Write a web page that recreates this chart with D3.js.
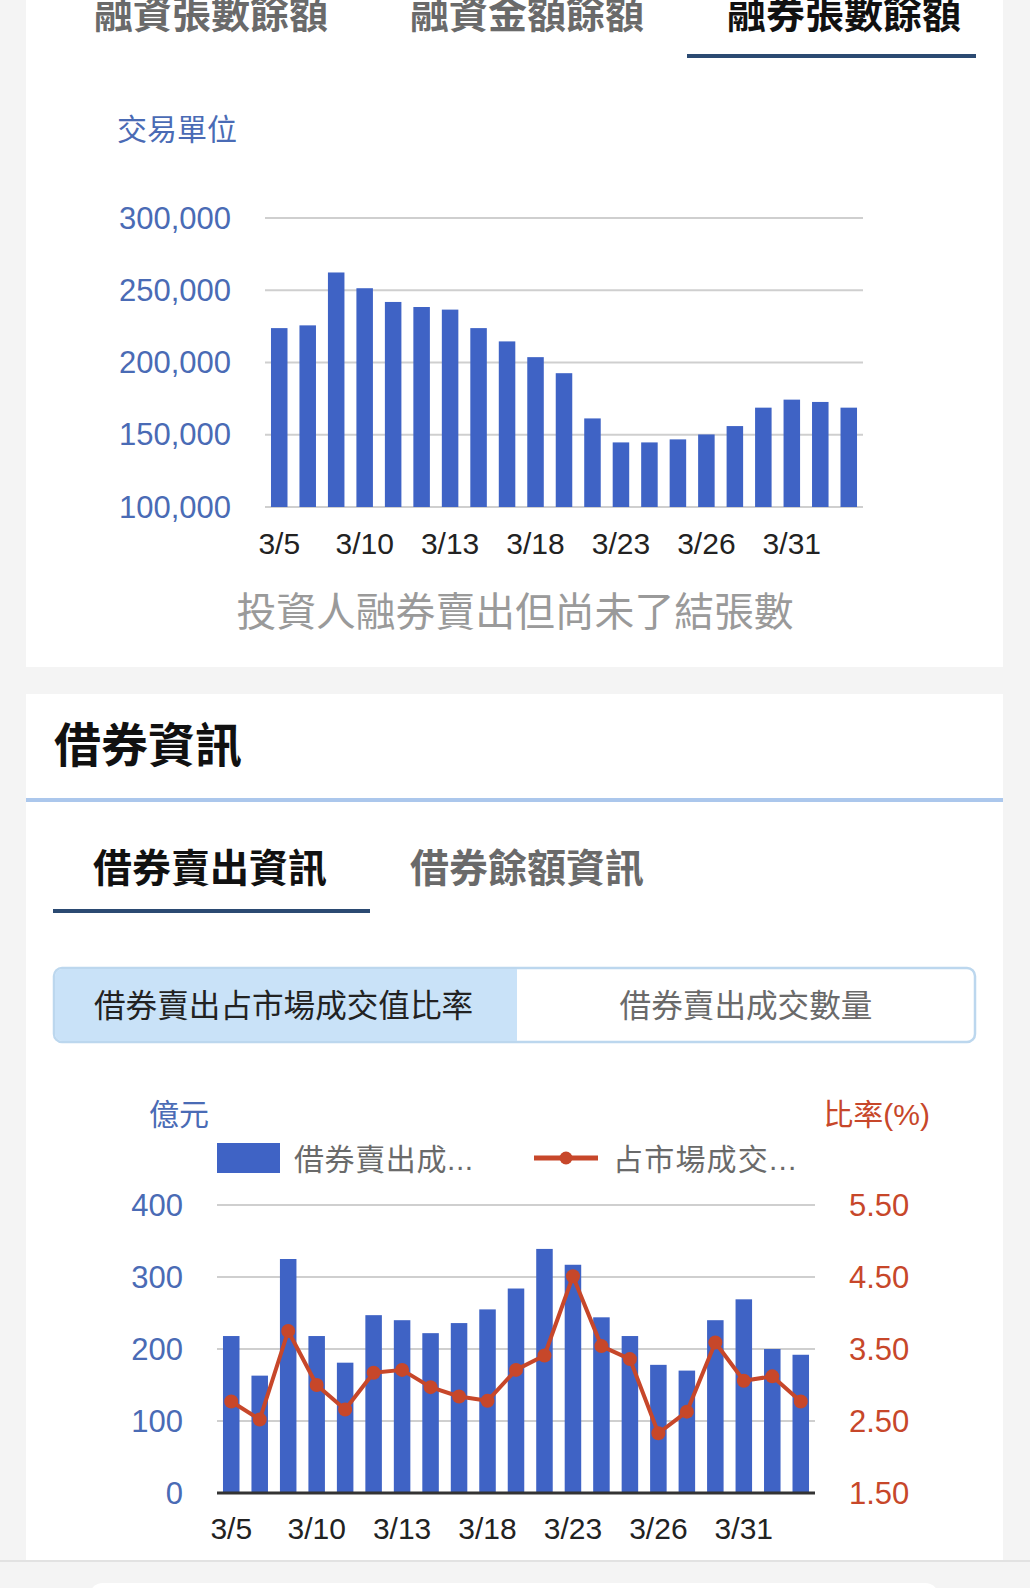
<!DOCTYPE html>
<html>
<head>
<meta charset="utf-8">
<script src="https://cdn.jsdelivr.net/npm/d3@7"></script>
<style>
  html, body { margin: 0; padding: 0; background: #f4f4f4; }
  svg { display: block; font-family: "Liberation Sans", "Noto Sans CJK TC", sans-serif; }
</style>
</head>
<body>
<svg id="page" width="1030" height="1588"></svg>
<script>
// trading days shown on both charts
const dates = ['3/5', '3/6', '3/9', '3/10', '3/11', '3/12', '3/13', '3/16', '3/17', '3/18', '3/19',
  '3/20', '3/23', '3/24', '3/25', '3/26', '3/27', '3/30', '3/31', '4/1', '4/6'];
const tickDates = ['3/5', '3/10', '3/13', '3/18', '3/23', '3/26', '3/31'];

// 融券張數餘額
const shortBalance = [223800, 225700, 262300, 251400, 241900, 238400, 236600, 223800, 214600, 203700, 192600,
  161300, 144700, 144700, 146800, 150200, 156000, 168750, 174300, 172700, 168750];
const balanceTicks = [100000, 150000, 200000, 250000, 300000];

// 借券賣出成交值 (億元) and 占市場成交值比率 (%)
const lendSellValue = [218, 163, 325, 218, 181, 247, 240, 222, 236, 255, 284,
  339, 317, 244, 218, 178, 170, 240, 269, 200, 192];
const lendSellRatio = [2.77, 2.52, 3.75, 3.00, 2.66, 3.17, 3.21, 2.97, 2.84, 2.78, 3.21,
  3.41, 4.51, 3.54, 3.36, 2.33, 2.63, 3.59, 3.06, 3.12, 2.77];
const valueTicks = [0, 100, 200, 300, 400];
const ratioTicks = [1.5, 2.5, 3.5, 4.5, 5.5];

const topTabs = ['融資張數餘額', '融資金額餘額', '融券張數餘額'];
const lendTabs = ['借券賣出資訊', '借券餘額資訊'];

const BLUE = '#3f63c5';
const AXIS_BLUE = '#4a6bb5';
const RED = '#c7472a';
const GRID = '#cfcfcf';
const NAVY = '#2b4a72';

const svg = d3.select('#page');

function text(g, x, y, str, size, opts = {}) {
  return g.append('text')
    .attr('x', x)
    .attr('y', y)
    .attr('dominant-baseline', 'central')
    .attr('text-anchor', opts.anchor || 'start')
    .attr('font-size', size)
    .attr('font-weight', opts.bold ? 'bold' : 'normal')
    .attr('fill', opts.color || '#222')
    .text(str);
}

// page background + cards
svg.append('rect').attr('width', 1030).attr('height', 1588).attr('fill', '#f4f4f4');
svg.append('rect').attr('x', 26).attr('y', 0).attr('width', 977).attr('height', 667).attr('fill', '#fff');
svg.append('rect').attr('x', 26).attr('y', 694).attr('width', 977).attr('height', 866).attr('fill', '#fff');
svg.append('rect').attr('x', 0).attr('y', 1560).attr('width', 1030).attr('height', 2).attr('fill', '#e2e2e2');
svg.append('rect').attr('x', 89).attr('y', 1583).attr('width', 850).attr('height', 30).attr('rx', 14).attr('fill', '#fff');

// top tabs (scrolled so they sit partly above the top edge)
const tabX = [94, 410, 727];
topTabs.forEach((t, i) => {
  const active = i === 2;
  text(svg, tabX[i], 14, t, 39, { bold: true, color: active ? '#111' : '#6a6a6a' });
});
svg.append('rect').attr('x', 687).attr('y', 54).attr('width', 289).attr('height', 4).attr('fill', NAVY);

text(svg, 117, 129, '交易單位', 30, { color: AXIS_BLUE });

// ---- chart 1: 融券張數餘額 ----
const x1 = d3.scaleBand().domain(dates).range([265, 863]).paddingInner(0.42).paddingOuter(0.21);
const y1 = d3.scaleLinear().domain([100000, 300000]).range([507, 218]);
const c1 = svg.append('g');

c1.selectAll('.grid')
  .data(balanceTicks)
  .enter()
  .append('line')
  .attr('class', 'grid')
  .attr('x1', 265).attr('x2', 863)
  .attr('y1', (d) => y1(d)).attr('y2', (d) => y1(d))
  .attr('stroke', GRID).attr('stroke-width', 2);

c1.selectAll('.bar')
  .data(shortBalance)
  .enter()
  .append('rect')
  .attr('class', 'bar')
  .attr('x', (d, i) => x1(dates[i]))
  .attr('width', x1.bandwidth())
  .attr('y', (d) => y1(d))
  .attr('height', (d) => y1(100000) - y1(d))
  .attr('fill', BLUE);

balanceTicks.forEach((v) => text(c1, 231, y1(v), d3.format(',')(v), 31, { anchor: 'end', color: AXIS_BLUE }));
tickDates.forEach((d) => text(c1, x1(d) + x1.bandwidth() / 2, 543, d, 30, { anchor: 'middle' }));

text(svg, 515, 612, '投資人融券賣出但尚未了結張數', 39.8, { anchor: 'middle', color: '#9a9a9a' });

// ---- card 2 header ----
text(svg, 54, 745, '借券資訊', 47, { bold: true, color: '#111' });
svg.append('rect').attr('x', 26).attr('y', 798).attr('width', 977).attr('height', 4).attr('fill', '#abc7ec');

const lendTabX = [93, 410];
lendTabs.forEach((t, i) => text(svg, lendTabX[i], 868, t, 39, { bold: true, color: i === 0 ? '#111' : '#6a6a6a' }));
svg.append('rect').attr('x', 53).attr('y', 909).attr('width', 317).attr('height', 4).attr('fill', NAVY);

// segmented switch
const seg = svg.append('g');
seg.append('rect').attr('x', 54).attr('y', 968).attr('width', 921).attr('height', 74).attr('rx', 8)
  .attr('fill', '#fff').attr('stroke', '#bcd7ee').attr('stroke-width', 2.5);
seg.append('path')
  .attr('d', 'M517 969 H62 a7 7 0 0 0 -7 7 V1034 a7 7 0 0 0 7 7 H517 Z')
  .attr('fill', '#c9e2f8');
text(seg, 94, 1006, '借券賣出占市場成交值比率', 31.6, { color: '#222' });
text(seg, 746, 1006, '借券賣出成交數量', 31.6, { anchor: 'middle', color: '#6a6a6a' });

// ---- chart 2: 借券賣出 ----
const x2 = d3.scaleBand().domain(dates).range([217, 815]).paddingInner(0.42).paddingOuter(0.21);
const y2 = d3.scaleLinear().domain([0, 400]).range([1493, 1205]);
const r2 = d3.scaleLinear().domain([1.5, 5.5]).range([1493, 1205]);
const c2 = svg.append('g');

text(c2, 149, 1114, '億元', 30, { color: AXIS_BLUE });
text(c2, 930, 1114, '比率(%)', 30, { anchor: 'end', color: RED });

// legend
c2.append('rect').attr('x', 217).attr('y', 1143).attr('width', 63).attr('height', 30).attr('fill', BLUE);
text(c2, 294, 1159, '借券賣出成...', 30, { color: '#6a6a6a' }).attr('letter-spacing', 0.6);
c2.append('line').attr('x1', 534).attr('x2', 598).attr('y1', 1158).attr('y2', 1158)
  .attr('stroke', RED).attr('stroke-width', 5);
c2.append('circle').attr('cx', 566).attr('cy', 1158).attr('r', 6.5).attr('fill', RED);
text(c2, 613, 1159, '占市場成交...', 30, { color: '#6a6a6a' }).attr('letter-spacing', 1.2);

c2.selectAll('.grid')
  .data(valueTicks.slice(1))
  .enter()
  .append('line')
  .attr('class', 'grid')
  .attr('x1', 217).attr('x2', 815)
  .attr('y1', (d) => y2(d)).attr('y2', (d) => y2(d))
  .attr('stroke', GRID).attr('stroke-width', 2);

c2.selectAll('.bar')
  .data(lendSellValue)
  .enter()
  .append('rect')
  .attr('class', 'bar')
  .attr('x', (d, i) => x2(dates[i]))
  .attr('width', x2.bandwidth())
  .attr('y', (d) => y2(d))
  .attr('height', (d) => y2(0) - y2(d))
  .attr('fill', BLUE);

c2.append('line').attr('x1', 217).attr('x2', 815).attr('y1', y2(0)).attr('y2', y2(0))
  .attr('stroke', '#333').attr('stroke-width', 3);

const cx = (i) => x2(dates[i]) + x2.bandwidth() / 2;
const line = d3.line().x((d, i) => cx(i)).y((d) => r2(d));

c2.append('path')
  .datum(lendSellRatio)
  .attr('d', line)
  .attr('fill', 'none')
  .attr('stroke', RED)
  .attr('stroke-width', 4)
  .attr('stroke-linejoin', 'round');

c2.selectAll('.dot')
  .data(lendSellRatio)
  .enter()
  .append('circle')
  .attr('class', 'dot')
  .attr('cx', (d, i) => cx(i))
  .attr('cy', (d) => r2(d))
  .attr('r', 7)
  .attr('fill', RED);

valueTicks.forEach((v) => text(c2, 183, y2(v), v, 31, { anchor: 'end', color: AXIS_BLUE }));
ratioTicks.forEach((v) => text(c2, 849, r2(v), v.toFixed(2), 31, { color: RED }));
tickDates.forEach((d) => text(c2, x2(d) + x2.bandwidth() / 2, 1528, d, 30, { anchor: 'middle' }));
</script>
</body>
</html>
